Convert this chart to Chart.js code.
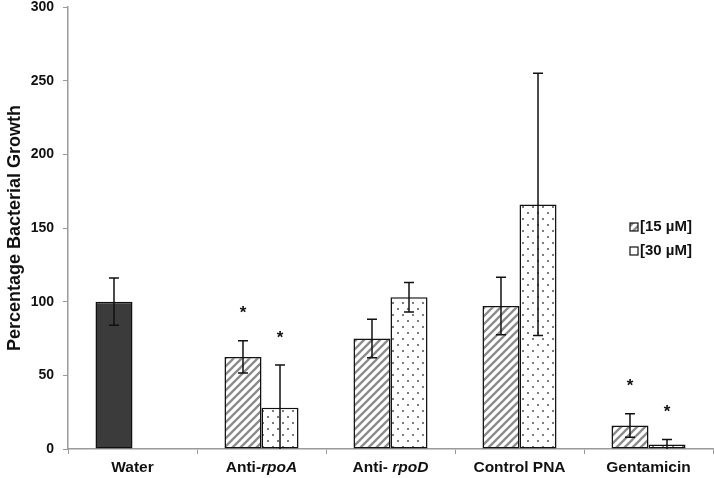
<!DOCTYPE html>
<html>
<head>
<meta charset="utf-8">
<script src="https://cdn.jsdelivr.net/npm/chart.js@4/dist/chart.umd.min.js"></script>
<style>
  html, body { margin: 0; padding: 0; background: #fff; }
  #wrap { width: 714px; height: 478px; position: relative; }
</style>
</head>
<body>
<div id="wrap"><canvas id="growthChart"></canvas></div>
<script>
// Data
const categories = ["Water", "Anti-rpoA", "Anti- rpoD", "Control PNA", "Gentamicin"];
const italicParts = [null, "rpoA", "rpoD", null, null];
const seriesNames = ["[15 \u00b5M]", "[30 \u00b5M]"];
const growth15 = [100, 62.5, 75, 97, 16];
const growth30 = [null, 28, 103, 166, 3];
const err15 = [16, 11, 13, 19.5, 8];
const err30 = [null, 29, 10, 89, 3.5];
const signif15 = [false, true, false, false, true];
const signif30 = [false, true, false, false, true];
const yTicks = [0, 50, 100, 150, 200, 250, 300];

const FONT = "'Liberation Sans', Arial, sans-serif";

// fill patterns
function hatchPattern() {
  const c = document.createElement("canvas");
  c.width = 8; c.height = 8;
  const g = c.getContext("2d");
  g.fillStyle = "#fff";
  g.fillRect(0, 0, 8, 8);
  g.strokeStyle = "#8c8c8c";
  g.lineWidth = 2.3;
  g.beginPath();
  g.moveTo(-2, 10); g.lineTo(10, -2);
  g.moveTo(-2, 2); g.lineTo(2, -2);
  g.moveTo(6, 10); g.lineTo(10, 6);
  g.stroke();
  return g.createPattern(c, "repeat");
}

function dotPattern() {
  const c = document.createElement("canvas");
  c.width = 10; c.height = 12;
  const g = c.getContext("2d");
  g.fillStyle = "#fff";
  g.fillRect(0, 0, 10, 12);
  g.fillStyle = "#7c7c7c";
  g.fillRect(2, 2, 2, 2);
  g.fillRect(7, 8, 2, 2);
  return g.createPattern(c, "repeat");
}

const hatch = hatchPattern();
const dots = dotPattern();

// error bars and significance stars
const errorBars = {
  id: "errorBars",
  afterDatasetsDraw(chart) {
    const ctx = chart.ctx;
    const y = chart.scales.y;
    const errs = [err15, err30];
    const stars = [signif15, signif30];
    ctx.save();
    ctx.strokeStyle = "#111";
    ctx.lineWidth = 1.5;
    chart.data.datasets.forEach((ds, di) => {
      const meta = chart.getDatasetMeta(di);
      meta.data.forEach((bar, i) => {
        const v = ds.data[i];
        const e = errs[di][i];
        if (v == null || e == null) return;
        const x = bar.x;
        const yTop = y.getPixelForValue(v + e);
        const yBot = y.getPixelForValue(Math.max(0, v - e));
        ctx.beginPath();
        ctx.moveTo(x, yTop); ctx.lineTo(x, yBot);
        ctx.moveTo(x - 5, yTop); ctx.lineTo(x + 5, yTop);
        if (v - e > 0) { ctx.moveTo(x - 5, yBot); ctx.lineTo(x + 5, yBot); }
        ctx.stroke();
        if (stars[di][i]) {
          ctx.fillStyle = "#111";
          ctx.font = "bold 17px " + FONT;
          ctx.textAlign = "center";
          ctx.textBaseline = "middle";
          ctx.fillText("*", x, yTop - 27);
        }
      });
    });
    ctx.restore();
  }
};

// category labels with italic gene names
const xLabels = {
  id: "xLabels",
  afterDraw(chart) {
    const ctx = chart.ctx;
    const xs = chart.scales.x;
    ctx.save();
    ctx.fillStyle = "#111";
    ctx.textBaseline = "middle";
    ctx.textAlign = "left";
    categories.forEach((lab, i) => {
      const it = italicParts[i];
      const parts = it ? [[lab.slice(0, lab.indexOf(it)), "bold 15.5px "], [it, "italic bold 15.5px "]] : [[lab, "bold 15.5px "]];
      let w = 0;
      parts.forEach(p => { ctx.font = p[1] + FONT; w += ctx.measureText(p[0]).width; });
      let x = xs.getPixelForTick(i) - w / 2;
      parts.forEach(p => {
        ctx.font = p[1] + FONT;
        ctx.fillText(p[0], x, 468);
        x += ctx.measureText(p[0]).width;
      });
    });
    ctx.restore();
  }
};

// legend drawn at the right, like the original
const sideLegend = {
  id: "sideLegend",
  afterDraw(chart) {
    const ctx = chart.ctx;
    const fills = [hatch, "#fff"];
    ctx.save();
    ctx.font = "bold 15px " + FONT;
    ctx.textBaseline = "middle";
    seriesNames.forEach((name, i) => {
      const yy = 227 + i * 24;
      ctx.fillStyle = fills[i];
      ctx.fillRect(630, yy - 4, 8, 8);
      ctx.strokeStyle = "#111";
      ctx.lineWidth = 1.2;
      ctx.strokeRect(630, yy - 4, 8, 8);
      ctx.fillStyle = "#111";
      ctx.fillText(name, 640, yy);
    });
    ctx.restore();
  }
};

new Chart(document.getElementById("growthChart"), {
  type: "bar",
  data: {
    labels: categories,
    datasets: [
      {
        label: seriesNames[0],
        data: growth15,
        backgroundColor: growth15.map((v, i) => (i === 0 ? "#3b3b3b" : hatch)),
        borderColor: "#111",
        borderWidth: 1.5,
        borderSkipped: false,
        categoryPercentage: 0.574,
        barPercentage: 1,
      },
      {
        label: seriesNames[1],
        data: growth30,
        backgroundColor: dots,
        borderColor: "#111",
        borderWidth: 1.5,
        borderSkipped: false,
        categoryPercentage: 0.574,
        barPercentage: 1,
      },
    ],
  },
  options: {
    responsive: true,
    maintainAspectRatio: false,
    animation: false,
    layout: { padding: { top: 7, right: 1, left: 0, bottom: 0 } },
    plugins: {
      legend: { display: false },
      tooltip: { enabled: false },
    },
    scales: {
      x: {
        ticks: { display: false },
        grid: { drawOnChartArea: false, tickLength: 5, color: "#9a9a9a", offset: true },
        border: { color: "#9a9a9a", width: 1.5 },
        afterFit: (s) => { s.height = 29; s.paddingLeft = 0; s.paddingRight = 0; },
      },
      y: {
        min: 0,
        max: 300,
        afterBuildTicks: (s) => { s.ticks = yTicks.map((v) => ({ value: v })); },
        ticks: {
          color: "#111",
          padding: 9,
          font: { family: FONT, size: 14, weight: "bold" },
        },
        grid: { drawOnChartArea: false, tickLength: 5, color: "#9a9a9a" },
        border: { color: "#9a9a9a", width: 1.5 },
        title: {
          display: true,
          text: "Percentage Bacterial Growth",
          color: "#111",
          font: { family: FONT, size: 18, weight: "bold" },
          padding: { top: 4, bottom: 0 },
        },
        afterFit: (s) => { s.width = 68; s.paddingTop = 0; s.paddingBottom = 0; },
      },
    },
  },
  plugins: [errorBars, xLabels, sideLegend],
});
</script>
</body>
</html>
